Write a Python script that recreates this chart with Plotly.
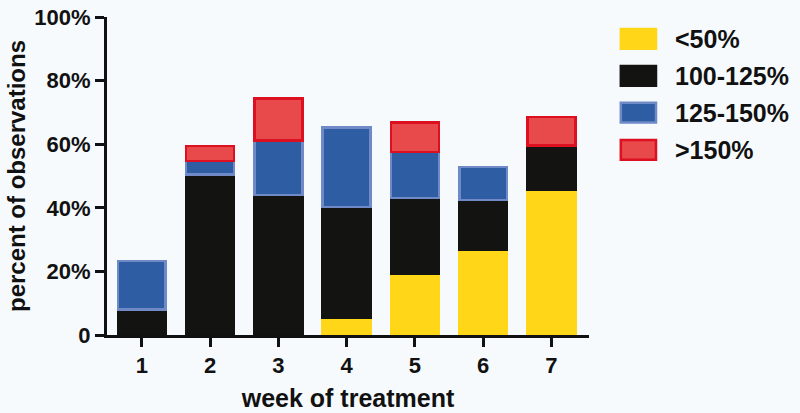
import plotly.graph_objects as go

weeks = [1, 2, 3, 4, 5, 6, 7]
series_names = ["<50%", "100-125%", "125-150%", ">150%"]
under50 = [None, None, None, 5.4, 19.3, 26.7, 45.8]
r100_125 = [8.0, 50.5, 44.0, 34.9, 23.8, 15.7, 13.8]
r125_150 = [15.2, 4.2, 17.2, 25.0, 14.4, 10.4, None]
over150 = [None, 4.7, 13.1, None, 9.4, None, 9.0]
y_ticks = [0, 20, 40, 60, 80, 100]
y_tick_labels = ["0", "20%", "40%", "60%", "80%", "100%"]

fills = ["#FFD618", "#131311", "#2F5DA3", "#E8494A"]
borders = ["#FFD618", "#131311", "#6F8AC6", "#DC1020"]
values = [under50, r100_125, r125_150, over150]

FONT = "Liberation Sans, Arial, sans-serif"

fig = go.Figure()
for name, vals, fc, bc in zip(series_names, values, fills, borders):
    fig.add_trace(go.Bar(
        x=weeks, y=vals, name=name, width=0.7,
        marker=dict(color=fc, line=dict(color=bc, width=2.5)),
        showlegend=False,
    ))

# manual legend (large swatches)
legend_y = [0.931, 0.815, 0.699, 0.582]
for name, fc, bc, yy in zip(series_names, fills, borders, legend_y):
    fig.add_shape(type="rect", xref="paper", yref="paper",
                  x0=1.066, x1=1.139, y0=yy - 0.031, y1=yy + 0.031,
                  fillcolor=fc, line=dict(color=bc, width=2.5))
    fig.add_annotation(xref="paper", yref="paper", x=1.174, y=yy,
                       text=name, showarrow=False, xanchor="left", yanchor="middle",
                       font=dict(family=FONT, size=25, color="#111", weight="bold"))

fig.update_layout(
    barmode="stack",
    width=800, height=413,
    margin=dict(l=107, r=211, t=17, b=78),
    paper_bgcolor="#F7FAFD",
    plot_bgcolor="#F7FAFD",
    font=dict(family=FONT, color="#111"),
    xaxis=dict(
        range=[0.49, 7.55], tickvals=weeks, ticktext=[str(w) for w in weeks],
        showgrid=False, zeroline=False, showline=True, linecolor="#111", linewidth=3,
        ticks="outside", ticklen=9, tickwidth=3, tickcolor="#111",
        tickfont=dict(size=22, family=FONT, weight="bold"),
        title=dict(text="week of treatment", font=dict(size=25, family=FONT, weight="bold"), standoff=13),
        automargin=False,
    ),
    yaxis=dict(
        range=[0, 100], tickvals=y_ticks, ticktext=y_tick_labels,
        showgrid=False, zeroline=False, showline=True, linecolor="#111", linewidth=3,
        ticks="outside", ticklen=9, tickwidth=3, tickcolor="#111",
        tickfont=dict(size=22, family=FONT, weight="bold"),
        title=dict(text="percent of observations", font=dict(size=24, family=FONT, weight="bold"), standoff=2),
        automargin=False,
    ),
)

fig.write_html(
    "out.html",
    config={"displayModeBar": False},
    post_script="document.body.style.margin='0';document.body.style.background='#F7FAFD';",
)
